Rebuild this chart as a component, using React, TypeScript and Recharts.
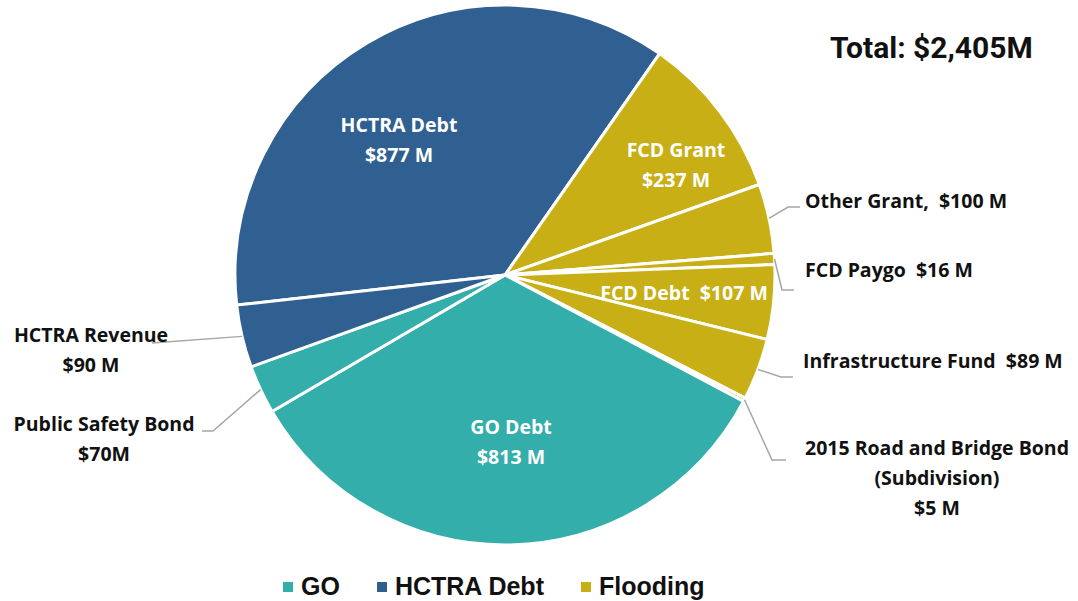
import React from 'react';
import { PieChart, Pie, Cell, Legend } from 'recharts';

// slices in clockwise order, starting at the HCTRA Debt slice
const sliceNames = [
  'HCTRA Debt',
  'FCD Grant',
  'Other Grant',
  'FCD Paygo',
  'FCD Debt',
  'Infrastructure Fund',
  '2015 Road and Bridge Bond',
  'GO Debt',
  'Public Safety Bond',
  'HCTRA Revenue',
];
const sliceValues = [877, 237, 100, 16, 107, 89, 5, 813, 70, 90];
const sliceGroups = ['HCTRA Debt', 'Flooding', 'Flooding', 'Flooding', 'Flooding', 'Flooding', 'Flooding', 'GO', 'GO', 'HCTRA Debt'];
const sliceLabels = [
  ['HCTRA Debt', '$877 M'],
  ['FCD Grant', '$237 M'],
  ['Other Grant,  $100 M'],
  ['FCD Paygo  $16 M'],
  ['FCD Debt  $107 M'],
  ['Infrastructure Fund  $89 M'],
  ['2015 Road and Bridge Bond', '(Subdivision)', '$5 M'],
  ['GO Debt', '$813 M'],
  ['Public Safety Bond', '$70M'],
  ['HCTRA Revenue', '$90 M'],
];

const groups = ['GO', 'HCTRA Debt', 'Flooding'];
const totalLabel = 'Total: $2,405M';

const groupColors: Record<string, string> = {
  GO: '#33AEAB',
  'HCTRA Debt': '#2F6091',
  Flooding: '#C7AF15',
};

const chartData = sliceNames.map((name, i) => ({
  name,
  value: sliceValues[i],
  group: sliceGroups[i],
  lines: sliceLabels[i],
}));

const FONT = '"Open Sans", Roboto, sans-serif';

// where each label sits; outside labels get a gray leader line with an elbow
type Placement = {
  inside?: boolean;
  x: number;
  y: number;
  anchor: 'start' | 'middle' | 'end';
  elbow?: [number, number];
  end?: [number, number];
};
const placements: Record<string, Placement> = {
  'HCTRA Debt': { inside: true, x: 399, y: 124, anchor: 'middle' },
  'FCD Grant': { inside: true, x: 676, y: 149, anchor: 'middle' },
  'Other Grant': { x: 805, y: 200, anchor: 'start', elbow: [788, 207], end: [800, 207] },
  'FCD Paygo': { x: 805, y: 269, anchor: 'start', elbow: [782, 290], end: [794, 290] },
  'FCD Debt': { inside: true, x: 684, y: 292, anchor: 'middle' },
  'Infrastructure Fund': { x: 803, y: 360, anchor: 'start', elbow: [781, 377], end: [793, 377] },
  '2015 Road and Bridge Bond': { x: 937, y: 447, anchor: 'middle', elbow: [772, 460], end: [786, 460] },
  'GO Debt': { inside: true, x: 511, y: 426, anchor: 'middle' },
  'Public Safety Bond': { x: 104, y: 423, anchor: 'middle', elbow: [213, 431], end: [202, 431] },
  'HCTRA Revenue': { x: 91, y: 334, anchor: 'middle', elbow: [152, 343] },
};

const RADIAN = Math.PI / 180;

const renderLabel = (props: any) => {
  const { cx, cy, midAngle, outerRadius, index } = props;
  const entry = chartData[index];
  const p = placements[entry.name];
  if (!p) return null;
  const sx = cx + outerRadius * Math.cos(-midAngle * RADIAN);
  const sy = cy + outerRadius * Math.sin(-midAngle * RADIAN);
  const pts: [number, number][] = [[sx, sy]];
  if (p.elbow) pts.push(p.elbow);
  if (p.end) pts.push(p.end);
  return (
    <g>
      {!p.inside && (
        <polyline
          points={pts.map((q) => q.join(',')).join(' ')}
          fill="none"
          stroke="#A6A6A6"
          strokeWidth={1.5}
        />
      )}
      {entry.lines.map((line, i) => (
        <text
          key={i}
          x={p.x}
          y={p.y + i * 30}
          textAnchor={p.anchor}
          dominantBaseline="central"
          fill={p.inside ? '#FFFFFF' : '#111111'}
          fontFamily={FONT}
          fontWeight={700}
          fontSize={19.5}
          style={{ whiteSpace: 'pre' }}
        >
          {line}
        </text>
      ))}
    </g>
  );
};

const renderLegend = () => (
  <div style={{ display: 'flex', paddingLeft: 283, fontFamily: '"Liberation Sans", Arial, sans-serif', fontWeight: 700, fontSize: 25, color: '#111' }}>
    {groups.map((g) => (
      <div key={g} style={{ display: 'flex', alignItems: 'center', marginRight: 37 }}>
        <span style={{ display: 'inline-block', width: 10, height: 10, background: groupColors[g], marginRight: 8 }} />
        <span>{g}</span>
      </div>
    ))}
  </div>
);

export default function App() {
  return (
    <div style={{ position: 'absolute', left: 0, top: 0, width: 1078, height: 601, background: '#fff' }}>
      <PieChart width={1078} height={601} margin={{ top: 0, right: 0, bottom: 0, left: 0 }}>
        <Pie
          data={chartData}
          dataKey="value"
          nameKey="name"
          cx={505}
          cy={275}
          outerRadius={270}
          startAngle={186.4}
          endAngle={-173.6}
          stroke="#FFFFFF"
          strokeWidth={3}
          label={renderLabel}
          labelLine={false}
          isAnimationActive={false}
        >
          {chartData.map((d, i) => (
            <Cell key={`cell-${i}`} fill={groupColors[d.group]} />
          ))}
        </Pie>
        <Legend content={renderLegend} verticalAlign="bottom" wrapperStyle={{ bottom: 0, left: 0, width: 1078 }} />
      </PieChart>
      <div
        style={{
          position: 'absolute',
          left: 830,
          top: 30,
          fontFamily: 'Roboto, sans-serif',
          fontWeight: 700,
          fontSize: 30,
          color: '#111',
          whiteSpace: 'nowrap',
        }}
      >
        {totalLabel}
      </div>
    </div>
  );
}
